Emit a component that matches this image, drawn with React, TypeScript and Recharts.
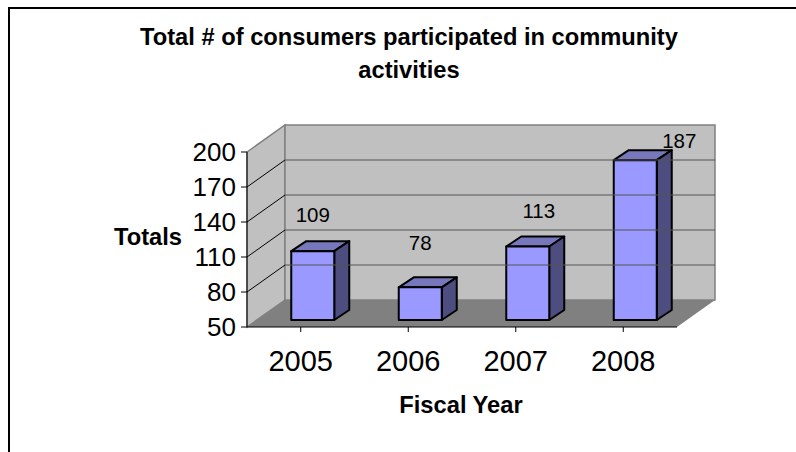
import React from 'react';
import { BarChart, Bar, XAxis, YAxis, ReferenceArea, ReferenceLine, LabelList } from 'recharts';

const years = ['2005', '2006', '2007', '2008'];
const totals = [109, 78, 113, 187];
const yTicks = [50, 80, 110, 140, 170, 200];
const titleLines = ['Total # of consumers participated in community', 'activities'];

const chartData = years.map((year, i) => ({ year, total: totals[i] }));

// depth of the box the chart sits in, and of each column
const DEPTH_X = 38;
const DEPTH_Y = 27;
const BAR_SHIFT_X = 12;
const BAR_SHIFT_Y = 7;
const BAR_DEPTH_X = 15;
const BAR_DEPTH_Y = 10;

// the value labels were dragged by hand, each one sits somewhere else
const labelNudge = [
  { dx: 12, dy: -36 },
  { dx: 12, dy: -44 },
  { dx: 23, dy: -36 },
  { dx: 56, dy: -19 },
];

const pts = (list: number[][]) => list.map((p) => p.join(',')).join(' ');

const Walls = ({ x, y, width, height }: any) => {
  const left = x;
  const right = x + width;
  const top = y;
  const bottom = y + height;
  return (
    <g>
      <polygon
        points={pts([[left, top], [left + DEPTH_X, top - DEPTH_Y], [left + DEPTH_X, bottom - DEPTH_Y], [left, bottom]])}
        fill="#c0c0c0"
        stroke="#808080"
        strokeWidth={1.5}
      />
      <polygon
        points={pts([[left + DEPTH_X, top - DEPTH_Y], [right + DEPTH_X, top - DEPTH_Y], [right + DEPTH_X, bottom - DEPTH_Y], [left + DEPTH_X, bottom - DEPTH_Y]])}
        fill="#c0c0c0"
        stroke="#808080"
        strokeWidth={1.5}
      />
      <polygon
        points={pts([[left, bottom], [left + DEPTH_X, bottom - DEPTH_Y], [right + DEPTH_X, bottom - DEPTH_Y], [right, bottom]])}
        fill="#808080"
      />
    </g>
  );
};

// one gridline folded around the side and back walls
const WallGridLine = ({ x1, x2, y1 }: any) => (
  <g>
    <line x1={x1} y1={y1} x2={x1 + DEPTH_X} y2={y1 - DEPTH_Y} stroke="#000" strokeWidth={1} />
    <line x1={x1 + DEPTH_X} y1={y1 - DEPTH_Y} x2={x2 + DEPTH_X} y2={y1 - DEPTH_Y} stroke="#555" strokeWidth={1.2} />
  </g>
);

const Column3D = ({ x, y, width, height }: any) => {
  const l = x + BAR_SHIFT_X;
  const r = l + width;
  const t = y - BAR_SHIFT_Y;
  const b = t + height;
  const stroke = { stroke: '#000', strokeWidth: 2, strokeLinejoin: 'round' as const };
  return (
    <g>
      <polygon points={pts([[l, t], [l + BAR_DEPTH_X, t - BAR_DEPTH_Y], [r + BAR_DEPTH_X, t - BAR_DEPTH_Y], [r, t]])} fill="#7777bb" {...stroke} />
      <polygon points={pts([[r, t], [r + BAR_DEPTH_X, t - BAR_DEPTH_Y], [r + BAR_DEPTH_X, b - BAR_DEPTH_Y], [r, b]])} fill="#4d4d80" {...stroke} />
      <rect x={l} y={t} width={width} height={height} fill="#9999ff" {...stroke} />
    </g>
  );
};

const ValueLabel = ({ x, y, width, value, index }: any) => (
  <text
    x={x + width / 2 + labelNudge[index].dx}
    y={y + labelNudge[index].dy}
    textAnchor="middle"
    fontSize={20.5}
    fill="#000"
  >
    {value}
  </text>
);

export default function App() {
  return (
    <div style={{ position: 'absolute', left: 0, top: 0, width: 796, height: 452, background: '#fff', overflow: 'hidden', fontFamily: '"Liberation Sans", Arial, sans-serif' }}>
      <div style={{ position: 'absolute', left: 8, top: 7, width: 800, height: 460, borderLeft: '2px solid #000', borderTop: '2px solid #000', boxSizing: 'border-box' }} />
      <BarChart
        width={796}
        height={452}
        data={chartData}
        margin={{ top: 152, right: 119, bottom: 75, left: 197 }}
        barCategoryGap="30%"
        style={{ position: 'absolute', left: 0, top: 0 }}
      >
        <text x={409} y={45} textAnchor="middle" fontSize={23.7} fontWeight="bold" fill="#000">{titleLines[0]}</text>
        <text x={409} y={78} textAnchor="middle" fontSize={23.7} fontWeight="bold" fill="#000">{titleLines[1]}</text>
        <text x={148} y={245} textAnchor="middle" fontSize={23.7} fontWeight="bold" fill="#000">Totals</text>
        <text x={461} y={413} textAnchor="middle" fontSize={23.7} fontWeight="bold" fill="#000">Fiscal Year</text>
        <XAxis
          dataKey="year"
          interval={0}
          axisLine={{ stroke: '#000', strokeWidth: 1 }}
          tickLine={{ stroke: '#000' }}
          tickSize={5}
          tick={{ fontSize: 29, fill: '#000' }}
          tickMargin={18}
          height={50}
        />
        <YAxis
          type="number"
          domain={[50, 200]}
          ticks={yTicks}
          interval={0}
          width={50}
          axisLine={{ stroke: '#000', strokeWidth: 1 }}
          tickLine={{ stroke: '#000' }}
          tickSize={6}
          tick={{ fontSize: 26, fill: '#000' }}
          tickMargin={5}
        />
        <ReferenceArea y1={50} y2={200} ifOverflow="visible" shape={<Walls />} />
        {yTicks.slice(1, -1).map((v) => (
          <ReferenceLine key={v} y={v} ifOverflow="visible" shape={<WallGridLine />} />
        ))}
        <Bar dataKey="total" isAnimationActive={false} shape={<Column3D />}>
          <LabelList dataKey="total" content={<ValueLabel />} />
        </Bar>
      </BarChart>
    </div>
  );
}
